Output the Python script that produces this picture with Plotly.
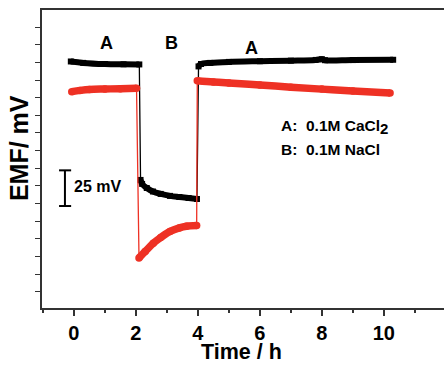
import plotly.graph_objects as go

# ---- data (time in h, EMF in mV, arbitrary offset) ----
black_t1 = [-0.1, 0.3, 1.0, 1.6, 2.11]
black_v1 = [163.2, 162.2, 161.4, 161.2, 161.1]
black_t2 = [2.15, 2.2, 2.35, 2.55, 2.8, 3.1, 3.4, 3.7, 3.97]
black_v2 = [79.2, 76.4, 73.5, 71.0, 69.3, 67.9, 67.1, 66.4, 65.7]
black_t3 = [4.02, 4.1, 4.4, 5.0, 6.0, 7.0, 7.8, 8.0, 8.1, 9.0, 10.3]
black_v3 = [159.7, 161.4, 162.2, 162.9, 163.4, 163.8, 164.3, 164.8, 164.1, 164.2, 164.4]

red_t1 = [-0.07, 0.2, 0.5, 1.0, 1.5, 2.02]
red_v1 = [141.8, 142.7, 143.4, 143.7, 143.9, 144.2]
red_t2 = [2.1, 2.3, 2.56, 2.8, 3.1, 3.4, 3.63, 3.96]
red_v2 = [23.9, 28.5, 34.3, 38.4, 42.7, 45.2, 46.4, 46.9]
red_t3 = [3.98, 4.5, 5.0, 6.0, 7.0, 8.0, 9.0, 10.2]
red_v3 = [149.6, 148.7, 148.0, 146.6, 145.0, 143.6, 142.3, 140.9]

x_ticks = [0, 2, 4, 6, 8, 10]

FONT = "Liberation Sans, Arial, sans-serif"
RED = "#ee3124"
BLACK = "#000000"

fig = go.Figure()

def add_series(segs, color, width, symbol):
    # thin connecting line through everything
    allt, allv = [], []
    for t, v in segs:
        allt += t
        allv += v
    fig.add_trace(go.Scatter(x=allt, y=allv, mode="lines",
                             line=dict(color=color, width=1.3),
                             hoverinfo="skip", showlegend=False))
    for t, v in segs:
        fig.add_trace(go.Scatter(x=t, y=v, mode="lines+markers",
                                 line=dict(color=color, width=width, shape="spline"),
                                 marker=dict(color=color, size=width, symbol=symbol),
                                 showlegend=False))

add_series([(black_t1, black_v1), (black_t2, black_v2), (black_t3, black_v3)], BLACK, 6, "square")
add_series([(red_t1, red_v1), (red_t2, red_v2), (red_t3, red_v3)], RED, 7.5, "circle")

bold = dict(family=FONT, color="black", weight="bold")

annotations = [
    dict(x=1.05, y=176.3, text="A", showarrow=False, font=dict(size=18, **bold)),
    dict(x=3.15, y=176.3, text="B", showarrow=False, font=dict(size=18, **bold)),
    dict(x=5.73, y=173.0, text="A", showarrow=False, font=dict(size=18, **bold)),
    dict(x=6.62, y=116.8,
         text="A:&nbsp;&nbsp;0.1M CaCl<sub><span style='font-size:15px'>2</span></sub>",
         showarrow=False, xanchor="left", yanchor="middle", font=dict(size=15.5, **bold)),
    dict(x=6.62, y=100.5, text="B:&nbsp;&nbsp;0.1M NaCl", showarrow=False,
         xanchor="left", yanchor="middle", font=dict(size=15.5, **bold)),
    dict(x=-0.06, y=74.2, text="25 mV", showarrow=False,
         xanchor="left", yanchor="middle", font=dict(size=16, **bold)),
    dict(xref="paper", yref="paper", x=0.4975, y=-0.192, text="Time / h",
         xanchor="center", yanchor="bottom", borderpad=0,
         showarrow=False, font=dict(size=21.5, **bold)),
    dict(xref="paper", yref="paper", x=-0.057, y=0.537, text="EMF/ mV",
         xanchor="center", yanchor="middle",
         textangle=-90, showarrow=False, font=dict(size=25, **bold)),
]

shapes = [
    dict(type="line", x0=-0.29, x1=-0.29, y0=60.7, y1=86.0, line=dict(color="black", width=2)),
    dict(type="line", x0=-0.48, x1=-0.09, y0=60.7, y1=60.7, line=dict(color="black", width=2)),
    dict(type="line", x0=-0.48, x1=-0.09, y0=86.0, y1=86.0, line=dict(color="black", width=2)),
]

fig.update_layout(
    width=444, height=366,
    margin=dict(l=42, r=0, t=10, b=58),
    paper_bgcolor="white", plot_bgcolor="white",
    annotations=annotations, shapes=shapes,
    xaxis=dict(range=[-1.03, 11.94], tickvals=x_ticks, ticks="outside", ticklen=6,
               tickwidth=1.5, tickcolor="#333", showline=True, linecolor="#333",
               linewidth=1.5, mirror=True, showgrid=False, zeroline=False,
               automargin=False, ticklabelstandoff=0,
               tickfont=dict(size=20, **bold),
               minor=dict(dtick=1, tick0=0, ticks="outside", ticklen=3,
                          tickwidth=1.5, tickcolor="#333", showgrid=False)),
    yaxis=dict(range=[-11.6, 199.7], tick0=0, dtick=12.5, ticks="outside", ticklen=5,
               tickwidth=1.2, tickcolor="#333", showline=True, linecolor="#333",
               linewidth=1.5, showticklabels=False, showgrid=False, zeroline=False,
               automargin=False),
)

fig.write_html("out.html", config={"displayModeBar": False},
               post_script="document.body.style.margin='0';document.body.style.overflow='hidden';")
